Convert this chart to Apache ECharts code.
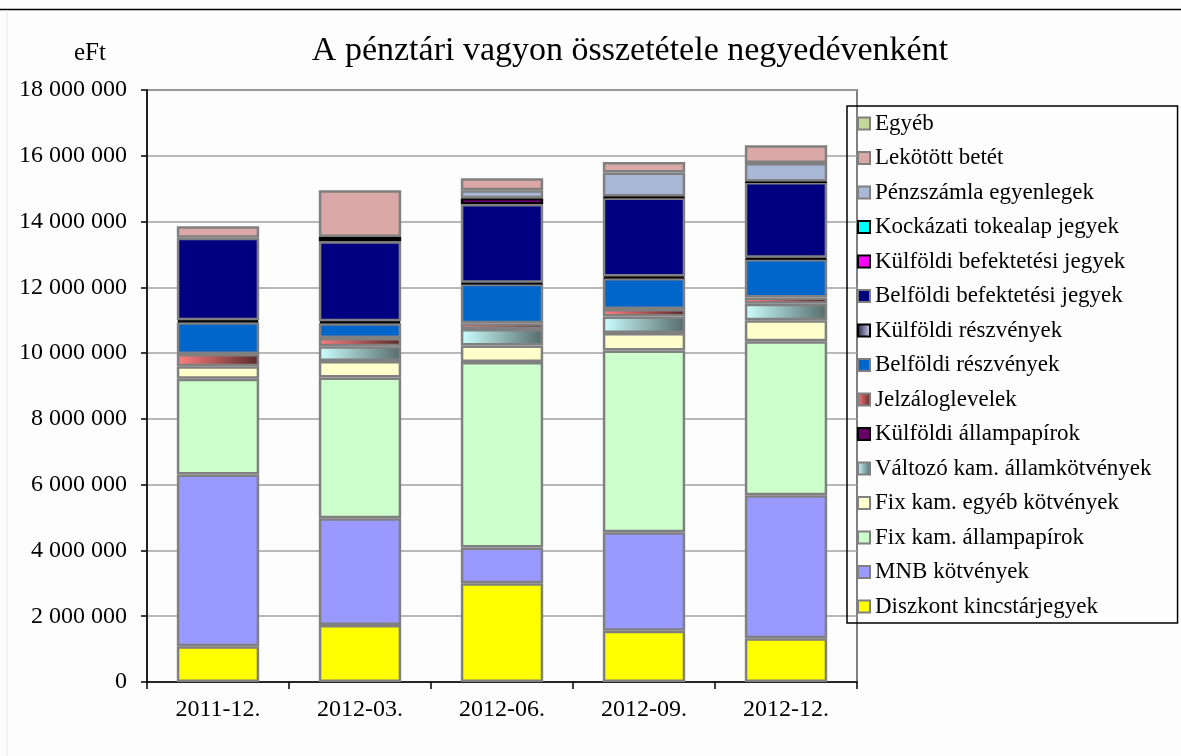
<!DOCTYPE html>
<html>
<head>
<meta charset="utf-8">
<title>A pénztári vagyon összetétele negyedévenként</title>
<script src="https://cdn.jsdelivr.net/npm/echarts@6/dist/echarts.min.js"></script>
<style>
  html, body { margin: 0; padding: 0; background: #fdfdfd; }
  #main { width: 1181px; height: 756px; }
</style>
</head>
<body>
<div id="main"></div>
<script>
// categories (quarters)
var quarters = ['2011-12.', '2012-03.', '2012-06.', '2012-09.', '2012-12.']
var yTicks = [0, 2000000, 4000000, 6000000, 8000000, 10000000, 12000000, 14000000, 16000000, 18000000]

// values in eFt (null = not present)
var diszkont = [1090000, 1730000, 3000000, 1560000, 1330000]
var mnb = [5220000, 3250000, 1090000, 2990000, 4350000]
var fixAllam = [2910000, 4280000, 5640000, 5530000, 4680000]
var fixEgyeb = [380000, 500000, 500000, 530000, 640000]
var valtozo = [null, 450000, 500000, 500000, 500000]
var kulfAllam = [null, null, null, null, null]
var jelzalog = [370000, 250000, 180000, 230000, 190000]
var belfReszveny = [970000, 450000, 1200000, 940000, 1170000]
var kulfReszveny = [60000, 60000, 30000, 50000, 40000]
var belfBefJegy = [2510000, 2430000, 2390000, 2400000, 2300000]
var kulfBefJegy = [null, 130000, 180000, 30000, 20000]
var kockazati = [null, null, null, null, null]
var penzszamla = [null, null, 240000, 730000, 560000]
var lekotott = [350000, 1420000, 370000, 320000, 540000]
var egyeb = [null, null, null, null, null]

var serif = 'Liberation Serif'
var gray = '#808080'

function hGrad(a, b) {
  return new echarts.graphic.LinearGradient(0, 0, 1, 0, [
    { offset: 0, color: a },
    { offset: 1, color: b }
  ])
}

// bottom to top
var seriesDefs = [
  { name: 'Diszkont kincstárjegyek', data: diszkont, color: '#ffff00', border: gray },
  { name: 'MNB kötvények', data: mnb, color: '#9999ff', border: gray },
  { name: 'Fix kam. állampapírok', data: fixAllam, color: '#ccffcc', border: gray },
  { name: 'Fix kam. egyéb kötvények', data: fixEgyeb, color: '#ffffcc', border: gray },
  { name: 'Változó kam. államkötvények', data: valtozo, color: hGrad('#ccffff', '#566b6b'), border: gray },
  { name: 'Külföldi állampapírok', data: kulfAllam, color: '#660066', border: '#000000' },
  { name: 'Jelzáloglevelek', data: jelzalog, color: hGrad('#ff7f7f', '#5a2a2a'), border: gray },
  { name: 'Belföldi részvények', data: belfReszveny, color: '#0066cc', border: gray },
  { name: 'Külföldi részvények', data: kulfReszveny, color: hGrad('#1a1a4d', '#dcdcf0'), border: '#000000' },
  { name: 'Belföldi befektetési jegyek', data: belfBefJegy, color: '#000080', border: gray },
  { name: 'Külföldi befektetési jegyek', data: kulfBefJegy, color: '#ff00ff', border: '#000000' },
  { name: 'Kockázati tokealap jegyek', data: kockazati, color: '#00ffff', border: '#000000' },
  { name: 'Pénzszámla egyenlegek', data: penzszamla, color: '#a9b8d6', border: gray },
  { name: 'Lekötött betét', data: lekotott, color: '#dba8a8', border: gray },
  { name: 'Egyéb', data: egyeb, color: '#c4d79b', border: gray }
]

var series = seriesDefs.map(function (d) {
  return {
    name: d.name,
    type: 'bar',
    stack: 'total',
    barWidth: '58%',
    data: d.data,
    itemStyle: { color: d.color, borderColor: d.border, borderWidth: 2.5 }
  }
})

function spaced(v) {
  return String(v).replace(/\B(?=(\d{3})+(?!\d))/g, ' ')
}

var myChart = echarts.init(document.getElementById('main'))

var option = {
  backgroundColor: '#fdfdfd',
  animation: false,
  title: [
    {
      text: 'A pénztári vagyon összetétele negyedévenként',
      left: 625,
      textAlign: 'center',
      top: 29,
      textStyle: { fontFamily: serif, fontWeight: 'normal', fontSize: 34, color: '#000' }
    },
    {
      text: 'eFt',
      left: 69,
      top: 36,
      textStyle: { fontFamily: serif, fontWeight: 'normal', fontSize: 25, color: '#000' }
    }
  ],
  graphic: [
    { type: 'line', shape: { x1: 0, y1: 9.5, x2: 1181, y2: 9.5 }, style: { stroke: '#000', lineWidth: 1.5 } },
    { type: 'line', shape: { x1: 7, y1: 10, x2: 7, y2: 756 }, style: { stroke: '#e6e6e6', lineWidth: 1 } }
  ],
  legend: {
    orient: 'vertical',
    left: 847,
    top: 106,
    padding: [6, 26, 5, 10],
    borderColor: '#000',
    borderWidth: 1.5,
    itemWidth: 12,
    itemHeight: 12,
    itemGap: 11.5,
    icon: 'rect',
    data: seriesDefs.map(function (d) { return d.name }).reverse(),
    textStyle: { fontFamily: serif, fontSize: 23, lineHeight: 21, color: '#000' }
  },
  grid: {
    left: 147,
    right: 324,
    top: 90,
    bottom: 74,
    show: true,
    borderColor: gray,
    borderWidth: 2
  },
  xAxis: {
    type: 'category',
    data: quarters,
    axisLine: { lineStyle: { color: '#000', width: 1.5 } },
    axisTick: { show: true, length: 7, lineStyle: { color: '#000', width: 1.5 } },
    axisLabel: { fontFamily: serif, fontSize: 24, color: '#000', margin: 16 }
  },
  yAxis: {
    type: 'value',
    min: yTicks[0],
    max: yTicks[yTicks.length - 1],
    interval: yTicks[1] - yTicks[0],
    axisLine: { show: true, lineStyle: { color: '#000', width: 1.5 } },
    axisTick: { show: true, length: 6, lineStyle: { color: '#000', width: 1.5 } },
    axisLabel: { fontFamily: serif, fontSize: 24, color: '#000', margin: 20, formatter: spaced },
    splitLine: { lineStyle: { color: '#a0a0a0', width: 1.5 } }
  },
  series: series
}

option && myChart.setOption(option)
</script>
</body>
</html>
